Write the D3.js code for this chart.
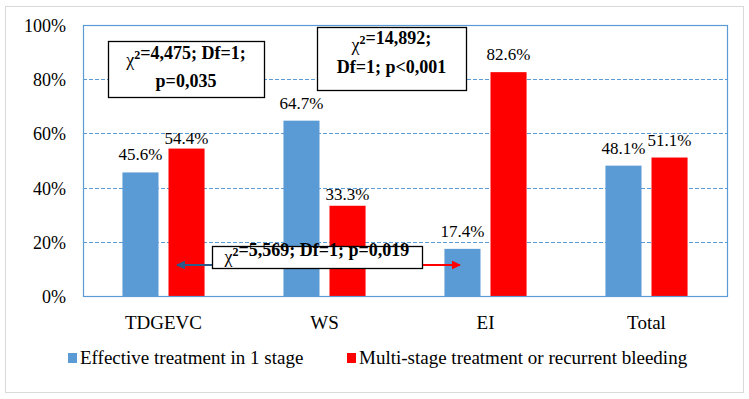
<!DOCTYPE html>
<html>
<head>
<meta charset="utf-8">
<script src="https://cdn.jsdelivr.net/npm/d3@7"></script>
</head>
<body style="margin:0;background:#fff">
<div id="chart"></div>
<script>
// Treatment outcome by group (share of patients)
const categories = ['TDGEVC', 'WS', 'EI', 'Total'];
const seriesNames = ['Effective treatment in 1 stage', 'Multi-stage treatment or recurrent bleeding'];
const effective = [45.6, 64.7, 17.4, 48.1];
const multiStage = [54.4, 33.3, 82.6, 51.1];
const yTicks = [0, 20, 40, 60, 80, 100];
const colors = ['#5b9bd5', '#ff0000'];

const FONT = 'Liberation Serif';
const W = 749, H = 399;
const plot = { left: 83, right: 727, top: 25, bottom: 296 };

const svg = d3.select('#chart').append('svg')
    .attr('width', W)
    .attr('height', H)
    .style('display', 'block');

// outer frame
svg.append('rect')
    .attr('x', 5.5).attr('y', 6.5)
    .attr('width', 738).attr('height', 386)
    .attr('fill', '#fff')
    .attr('stroke', '#d9d9d9')
    .attr('stroke-width', 1);

const y = d3.scaleLinear().domain([0, 100]).range([plot.bottom, plot.top]);

const x0 = d3.scaleBand()
    .domain(categories)
    .range([plot.left, plot.right])
    .paddingInner(0.49)
    .paddingOuter(0.245);

const x1 = d3.scaleBand()
    .domain([0, 1])
    .range([0, x0.bandwidth()])
    .paddingInner(0.217)
    .paddingOuter(0);

// gridlines
svg.append('g')
    .selectAll('line')
    .data(yTicks.filter(d => d > 0 && d < 100))
    .enter()
    .append('line')
    .attr('x1', plot.left).attr('x2', plot.right)
    .attr('y1', d => Math.round(y(d)) + 0.5)
    .attr('y2', d => Math.round(y(d)) + 0.5)
    .attr('stroke', '#5b9bd5')
    .attr('stroke-width', 1)
    .attr('stroke-dasharray', '4,2');

// y axis labels
const yAxis = svg.append('g')
    .attr('transform', `translate(${plot.left},0)`)
    .call(d3.axisLeft(y).tickValues(yTicks).tickSize(0).tickPadding(17).tickFormat(d => d + '%'));
yAxis.select('.domain').remove();
yAxis.selectAll('text')
    .style('font-size', '18px')
    .attr('fill', '#000')
    .attr('dy', '0.36em');

// bars
const rows = categories.map((c, i) => ({ cat: c, values: [effective[i], multiStage[i]] }));

const groups = svg.selectAll('.grp')
    .data(rows)
    .enter()
    .append('g')
    .attr('class', 'grp')
    .attr('transform', d => `translate(${x0(d.cat)},0)`);

groups.selectAll('rect')
    .data(d => d.values.map((v, k) => ({ v, k })))
    .enter()
    .append('rect')
    .attr('x', d => x1(d.k))
    .attr('width', x1.bandwidth())
    .attr('y', d => y(d.v))
    .attr('height', d => y(0) - y(d.v))
    .attr('fill', d => colors[d.k]);

// value labels (two were nudged down in the original)
const nudged = { '54.4': 7, '33.3': 6 };
groups.selectAll('text.val')
    .data(d => d.values.map((v, k) => ({ v, k })))
    .enter()
    .append('text')
    .attr('class', 'val')
    .attr('x', d => x1(d.k) + x1.bandwidth() / 2)
    .attr('y', d => y(d.v) - 12 + (nudged[d.v.toFixed(1)] || 0))
    .attr('text-anchor', 'middle')
    .style('font-size', '17px')
    .text(d => d.v.toFixed(1) + '%');

// plot border
svg.append('rect')
    .attr('x', plot.left + 0.5).attr('y', plot.top + 0.5)
    .attr('width', plot.right - plot.left).attr('height', plot.bottom - plot.top)
    .attr('fill', 'none')
    .attr('stroke', '#5b9bd5')
    .attr('stroke-width', 1.2);

// category labels
svg.append('g')
    .selectAll('text')
    .data(categories)
    .enter()
    .append('text')
    .attr('x', d => x0(d) + x0.bandwidth() / 2)
    .attr('y', 329)
    .attr('text-anchor', 'middle')
    .style('font-size', '19px')
    .text(d => d);

// legend
const legendX = [68, 347];
const legend = svg.append('g');
seriesNames.forEach((name, i) => {
    legend.append('rect')
        .attr('x', legendX[i]).attr('y', 353)
        .attr('width', 9).attr('height', 10)
        .attr('fill', colors[i]);
    legend.append('text')
        .attr('x', legendX[i] + 12).attr('y', 364)
        .style('font-size', '19px')
        .text(name);
});

// arrows
const defs = svg.append('defs');
[['arrBlue', '#2c5a8a'], ['arrRed', '#ff0000']].forEach(([id, c]) => {
    defs.append('marker')
        .attr('id', id)
        .attr('viewBox', '0 0 10 10')
        .attr('refX', 9).attr('refY', 5)
        .attr('markerWidth', 4.5).attr('markerHeight', 4)
        .attr('orient', 'auto')
        .append('path')
        .attr('d', 'M0,0 L10,5 L0,10 z')
        .attr('fill', c);
});
svg.append('line')
    .attr('x1', 212).attr('y1', 265).attr('x2', 177).attr('y2', 265)
    .attr('stroke', '#2c5a8a').attr('stroke-width', 2.2)
    .attr('marker-end', 'url(#arrBlue)');
svg.append('line')
    .attr('x1', 423).attr('y1', 265).attr('x2', 460).attr('y2', 265)
    .attr('stroke', '#ff0000').attr('stroke-width', 2.2)
    .attr('marker-end', 'url(#arrRed)');

// annotation boxes
function chiBox(bx, by, bw, bh, lines) {
    const g = svg.append('g');
    g.append('rect')
        .attr('x', bx + 0.5).attr('y', by + 0.5)
        .attr('width', bw).attr('height', bh)
        .attr('fill', '#fff')
        .attr('stroke', '#000')
        .attr('stroke-width', 1.3);
    lines.forEach(l => {
        const t = g.append('text')
            .attr('x', bx + bw / 2)
            .attr('y', l.y)
            .attr('text-anchor', 'middle')
            .style('font-size', '18px')
            .style('font-weight', 'bold');
        l.parts.forEach(p => {
            if (p.sup) {
                t.append('tspan').attr('dy', -7).style('font-size', '12px').text(p.text);
                t.append('tspan').attr('dy', 7).text('');
            } else if (p.chi) {
                t.append('tspan').style('font-weight', 'normal').text(p.text);
            } else {
                t.append('tspan').text(p.text);
            }
        });
    });
}

chiBox(108, 41, 156, 56, [
    { y: 66, parts: [{ text: 'χ', chi: true }, { text: '2', sup: true }, { text: '=4,475; Df=1;' }] },
    { y: 87, parts: [{ text: 'p=0,035' }] }
]);
chiBox(317, 27, 149, 63, [
    { y: 51, parts: [{ text: 'χ', chi: true }, { text: '2', sup: true }, { text: '=14,892;' }] },
    { y: 73, parts: [{ text: 'Df=1; p<0,001' }] }
]);
chiBox(212, 246, 210, 22, [
    { y: 263, parts: [{ text: 'χ', chi: true }, { text: '2', sup: true }, { text: '=5,569; Df=1; p=0,019' }] }
]);

// serif everywhere, set on each text so nothing overrides it
svg.selectAll('text, tspan').style('font-family', FONT);
</script>
</body>
</html>
